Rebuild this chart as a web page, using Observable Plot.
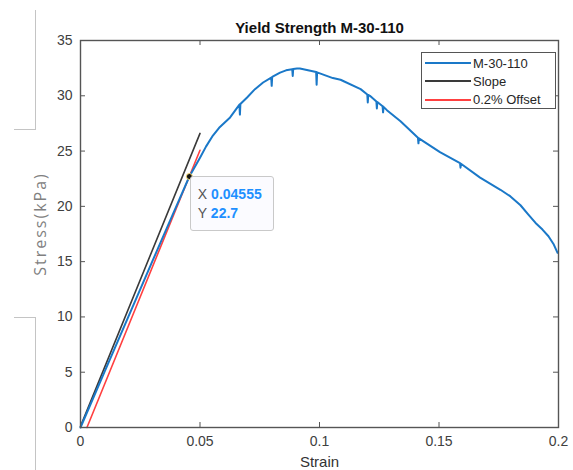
<!DOCTYPE html>
<html><head><meta charset="utf-8">
<script src="https://cdn.jsdelivr.net/npm/d3@7"></script>
<script src="https://cdn.jsdelivr.net/npm/@observablehq/plot@0.6"></script>
<style>
html,body{margin:0;padding:0;background:#fff;}
#wrap{position:relative;width:573px;height:470px;overflow:hidden;font-family:"Liberation Sans",Arial,sans-serif;}
#wrap svg{position:absolute;left:0;top:0;}
.deco{position:absolute;background:#c4c4c4;}
#legend{position:absolute;left:421px;top:52px;width:135px;height:57px;border:1px solid #555;background:#fff;font-size:13px;color:#262626;box-sizing:border-box;}
.row{position:absolute;left:3px;height:18px;display:flex;align-items:center;white-space:nowrap;}
.swatch{width:46px;height:0;border-top:2px solid;margin-right:2px;}
#tip{position:absolute;width:84px;height:55px;box-sizing:border-box;border:1px solid #c9c9c9;border-radius:3px;background:#fbfbff;font-size:14px;}
#tip .r{position:absolute;left:7px;white-space:nowrap;}
#tip .k{color:#555;}
#tip .v{color:#1e90ff;font-weight:bold;}
</style></head><body>
<div id="wrap"></div>
<script>
// ---- data ----
const titleText = "Yield Strength M-30-110";
const xLabel = "Strain";
const yLabel = "Stress(kPa)";
const xTicks = [0, 0.05, 0.1, 0.15, 0.2];
const xTickLabels = ["0", "0.05", "0.1", "0.15", "0.2"];
const yTicks = [0, 5, 10, 15, 20, 25, 30, 35];

const seriesNames = ["M-30-110", "Slope", "0.2% Offset"];
const seriesColors = ["#1a78c8", "#3a3a3a", "#ff4040"];

// measured curve (strain, stress)
const curveX = [0, 0.01, 0.02, 0.03, 0.04, 0.04555, 0.05, 0.0525, 0.0554, 0.058, 0.0626,
  0.0665, 0.0667, 0.0669, 0.0697, 0.073, 0.0764, 0.0798, 0.08, 0.0802, 0.0835,
  0.086, 0.0886, 0.0888, 0.089, 0.0906, 0.0918, 0.0986, 0.0988, 0.099, 0.1056, 0.1088, 0.1172,
  0.12, 0.1202, 0.1204, 0.1211, 0.1238, 0.124, 0.1242, 0.1264, 0.1266, 0.1268,
  0.1282, 0.1339, 0.1412, 0.1414, 0.1416, 0.1504, 0.1588, 0.159, 0.1592, 0.1672,
  0.1757, 0.1799, 0.1841, 0.1874, 0.1904, 0.1933, 0.1958, 0.1979, 0.1996];
const curveY = [0, 5.0, 10.0, 15.0, 19.95, 22.7, 24.4, 25.4, 26.4, 27.1, 28.04,
  29.2, 28.3, 29.25, 29.85, 30.6, 31.2, 31.65, 30.9, 31.7, 32.1,
  32.3, 32.4, 31.8, 32.42, 32.47, 32.47, 32.15, 31.0, 32.12, 31.6, 31.45, 30.6,
  30.12, 29.4, 30.08, 30.0, 29.48, 28.85, 29.44, 29.05, 28.5, 29.0,
  28.7, 27.7, 26.2, 25.7, 26.15, 24.9, 23.9, 23.5, 23.85, 22.6,
  21.5, 20.9, 20.1, 19.26, 18.5, 17.9, 17.3, 16.6, 15.8];

const slopeX = [0, 0.05];
const slopeY = [0.1, 26.6];
const offsetX = [0.0027, 0.05];
const offsetY = [0, 25.07];

const tipX = 0.04555;
const tipY = 22.7;
const tipLabels = ["0.04555", "22.7"];

// ---- build ----
const curve = curveX.map((x, i) => ({x, y: curveY[i]}));
const slope = slopeX.map((x, i) => ({x, y: slopeY[i]}));
const offset = offsetX.map((x, i) => ({x, y: offsetY[i]}));

const W = 573, H = 470, mL = 80, mR = 15, mT = 40, mB = 43;
const innerW = W - mL - mR, innerH = H - mT - mB;
const tickLen = 5;
const axisColor = "#555";

const plot = Plot.plot({
  width: W, height: H,
  marginLeft: mL, marginRight: mR, marginTop: mT, marginBottom: mB,
  style: {fontFamily: "'Liberation Sans', Arial, sans-serif", fontSize: "14px", color: "#404040", background: "#fff"},
  x: {domain: [0, 0.2]},
  y: {domain: [0, 35]},
  marks: [
    Plot.tickX(xTicks, {x: d => d, insetTop: innerH - tickLen, stroke: axisColor}),
    Plot.tickX(xTicks, {x: d => d, insetBottom: innerH - tickLen, stroke: axisColor}),
    Plot.tickY(yTicks, {y: d => d, insetRight: innerW - tickLen, stroke: axisColor}),
    Plot.tickY(yTicks, {y: d => d, insetLeft: innerW - tickLen, stroke: axisColor}),
    Plot.axisX({ticks: xTicks, tickFormat: d => xTickLabels[xTicks.indexOf(d)], tickSize: 0, tickPadding: 9, label: null, fontSize: 14}),
    Plot.axisY({ticks: yTicks, tickSize: 0, tickPadding: 8, label: null, fontSize: 14}),
    Plot.line(slope, {x: "x", y: "y", stroke: seriesColors[1], strokeWidth: 1.6}),
    Plot.line(offset, {x: "x", y: "y", stroke: seriesColors[2], strokeWidth: 1.6}),
    Plot.line(curve, {x: "x", y: "y", stroke: seriesColors[0], strokeWidth: 2}),
    Plot.dot([{x: tipX, y: tipY}], {x: "x", y: "y", r: 3, fill: "#111", stroke: "#ffe27a", strokeWidth: 1}),
    Plot.frame({stroke: axisColor, strokeWidth: 1.4}),
    Plot.text([titleText], {frameAnchor: "top", lineAnchor: "bottom", dy: -8, fontWeight: "bold", fontSize: 15, fill: "#111"}),
    Plot.text([xLabel], {frameAnchor: "bottom", lineAnchor: "top", dy: 29, fontSize: 15, fill: "#333"}),
    Plot.text([yLabel], {frameAnchor: "left", textAnchor: "middle", dx: -40, dy: -10, rotate: -90, fontSize: 16, fill: "#808080", fontFamily: "'Open Sans', sans-serif"})
  ]
});

const wrap = document.getElementById("wrap");
wrap.appendChild(plot);
d3.select(plot).selectAll("text").filter(function() { return this.textContent === yLabel; })
  .style("letter-spacing", "2px");

// decorative page marks at the left
[[35, 10, 1, 120], [14, 129, 21, 1], [14, 317, 21, 1], [35, 317, 1, 153]].forEach(([l, t, w, h]) => {
  const d = document.createElement("div");
  d.className = "deco";
  d.style.left = l + "px"; d.style.top = t + "px"; d.style.width = w + "px"; d.style.height = h + "px";
  wrap.appendChild(d);
});

// legend
const leg = document.createElement("div");
leg.id = "legend";
seriesNames.forEach((name, i) => {
  const r = document.createElement("div");
  r.className = "row";
  r.style.top = (1 + i * 18.3) + "px";
  const s = document.createElement("span");
  s.className = "swatch";
  s.style.borderTopColor = seriesColors[i];
  const t = document.createElement("span");
  t.textContent = name;
  r.appendChild(s); r.appendChild(t);
  leg.appendChild(r);
});
wrap.appendChild(leg);

// data tip
const sx = plot.scale("x"), sy = plot.scale("y");
const px = sx.apply(tipX), py = sy.apply(tipY);
const tip = document.createElement("div");
tip.id = "tip";
tip.style.left = (px + 1) + "px";
tip.style.top = (py + 0) + "px";
["X", "Y"].forEach((k, i) => {
  const r = document.createElement("div");
  r.className = "r";
  r.style.top = (9 + i * 19) + "px";
  r.innerHTML = `<span class="k">${k}</span> <span class="v">${tipLabels[i]}</span>`;
  tip.appendChild(r);
});
wrap.appendChild(tip);
</script>
</body></html>
